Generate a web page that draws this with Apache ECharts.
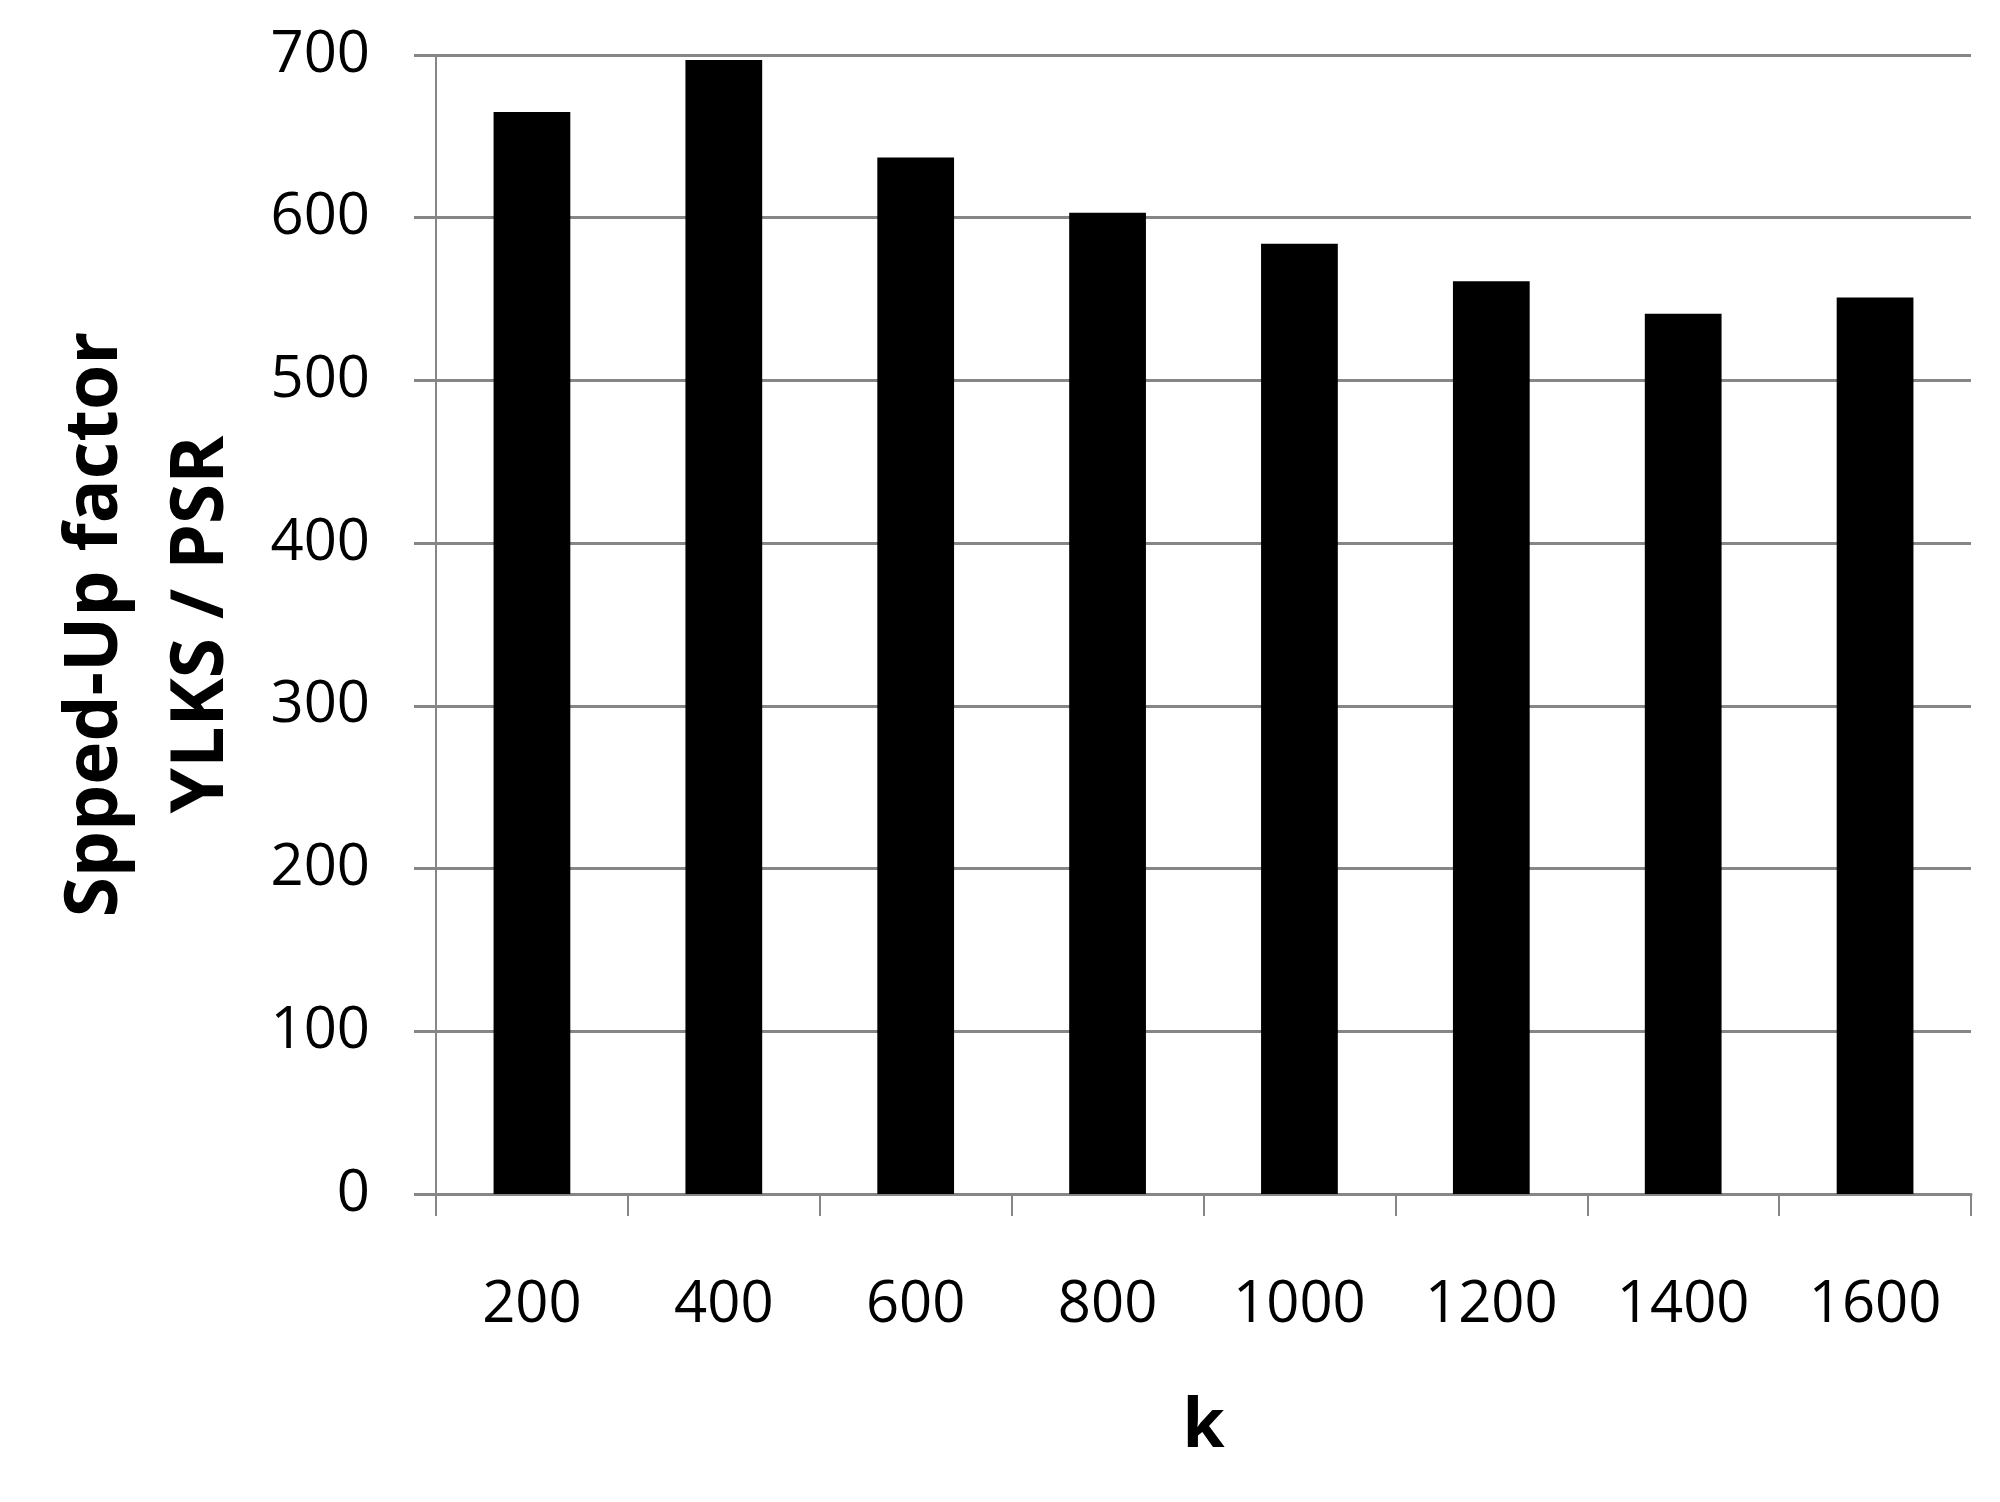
<!DOCTYPE html>
<html>
<head>
<meta charset="utf-8">
<script src="https://cdn.jsdelivr.net/npm/echarts@6/dist/echarts.min.js"></script>
<style>
  html, body { margin: 0; padding: 0; background: #ffffff; }
  #chart { width: 2000px; height: 1502px; }
</style>
</head>
<body>
<div id="chart"></div>
<script>
// k values on the x axis
const categories = ["200", "400", "600", "800", "1000", "1200", "1400", "1600"];
// speed-up factor YLKS / PSR
const speedUp = [665, 697, 637, 603, 584, 561, 541, 551];
const yTicks = [0, 100, 200, 300, 400, 500, 600, 700];

const myChart = echarts.init(document.getElementById("chart"));
const gray = "#868686";
const font = "Open Sans";

const option = {
  backgroundColor: "#ffffff",
  animation: false,
  grid: { left: 436, right: 29, top: 55, bottom: 308, outerBoundsMode: "none" },
  xAxis: {
    type: "category",
    data: categories,
    name: "k",
    nameLocation: "middle",
    nameGap: 200,
    nameTextStyle: { fontFamily: font, fontWeight: "bold", fontSize: 68, color: "#000" },
    axisLine: { lineStyle: { color: gray, width: 3 } },
    axisTick: { show: true, length: 22, alignWithLabel: false, lineStyle: { color: gray, width: 2 } },
    axisLabel: { margin: 82, fontFamily: font, fontSize: 58, color: "#000" },
  },
  yAxis: {
    type: "value",
    min: yTicks[0],
    max: yTicks[yTicks.length - 1],
    interval: 100,
    name: "Spped-Up factor\nYLKS / PSR",
    nameLocation: "middle",
    nameGap: 181,
    nameTextStyle: {
      fontFamily: font, fontWeight: "bold", fontSize: 73, color: "#000", lineHeight: 106,
    },
    axisLine: { show: true, lineStyle: { color: gray, width: 2 } },
    axisTick: { show: true, length: 22, lineStyle: { color: gray, width: 3 } },
    splitLine: { lineStyle: { color: gray, width: 3 } },
    axisLabel: { margin: 66, fontFamily: font, fontSize: 58, color: "#000" },
  },
  series: [
    {
      type: "bar",
      data: speedUp,
      barWidth: "40%",
      itemStyle: { color: "#000000" },
    },
  ],
};

myChart.setOption(option);
</script>
</body>
</html>
